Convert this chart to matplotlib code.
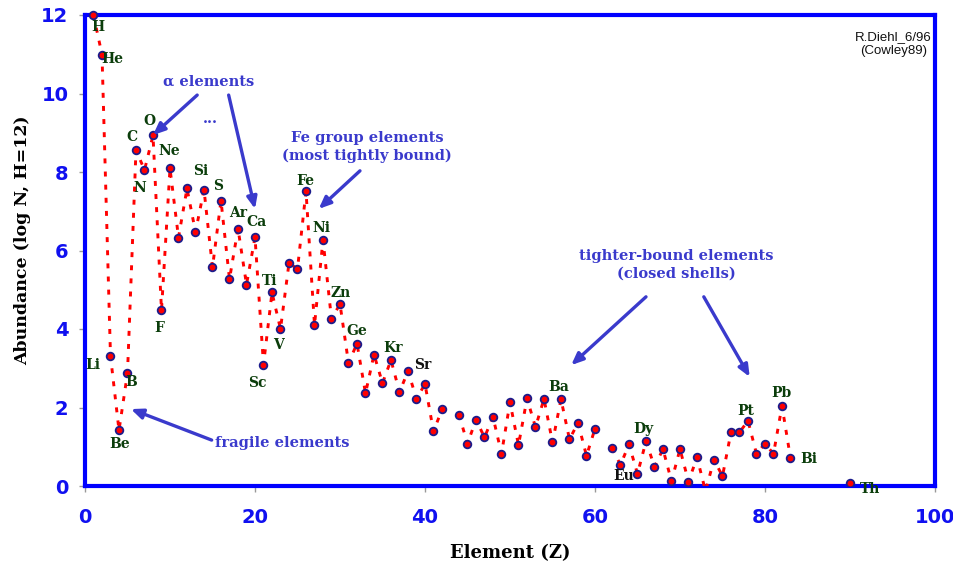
import numpy as np
import matplotlib
matplotlib.use("Agg")
import matplotlib.pyplot as plt
from matplotlib.patches import Rectangle

# Solar system abundances, log N with H = 12 (nan = no value shown)
z = np.arange(1, 91)
abund = np.array([
    12.00, 10.99, 3.31, 1.42, 2.88, 8.56, 8.05, 8.93, 4.48, 8.09,   # 1-10
    6.33, 7.58, 6.47, 7.55, 5.57, 7.27, 5.27, 6.56, 5.13, 6.34,     # 11-20
    3.09, 4.93, 4.00, 5.68, 5.53, 7.51, 4.10, 6.27, 4.25, 4.64,     # 21-30
    3.13, 3.63, 2.36, 3.35, 2.62, 3.21, 2.39, 2.93, 2.22, 2.60,     # 31-40
    1.39, 1.95, np.nan, 1.81, 1.08, 1.69, 1.24, 1.76, 0.82, 2.13,   # 41-50
    1.04, 2.23, 1.50, 2.22, 1.11, 2.21, 1.19, 1.61, 0.77, 1.46,     # 51-60
    np.nan, 0.96, 0.54, 1.06, 0.31, 1.14, 0.49, 0.94, 0.12, 0.94,   # 61-70
    0.11, 0.73, -0.13, 0.67, 0.25, 1.37, 1.37, 1.66, 0.82, 1.08,    # 71-80
    0.82, 2.04, 0.71, np.nan, np.nan, np.nan, np.nan, np.nan, np.nan, 0.07,  # 81-90
])

# labelled elements: symbol, Z, label offset (pixels)
lab_names = ["H", "He", "Li", "Be", "B", "C", "N", "O", "F", "Ne",
             "Si", "S", "Ar", "Ca", "Sc", "Ti", "V", "Fe", "Ni", "Zn",
             "Ge", "Kr", "Sr", "Ba", "Eu", "Dy", "Pt", "Pb", "Bi", "Th"]
lab_z = [1, 2, 3, 4, 5, 6, 7, 8, 9, 10,
         14, 16, 18, 20, 21, 22, 23, 26, 28, 30,
         32, 36, 38, 56, 63, 66, 78, 82, 83, 90]
lab_off = [(4, -12), (10, -4), (-18, -9), (1, -14), (4, -9), (-4, 13), (-5, -18), (-4, 14), (-2, -18), (-1, 17),
           (-3, 19), (-3, 15), (0, 16), (2, 15), (-6, -18), (-2, 11), (-2, -16), (-1, 10), (-2, 12), (1, 11),
           (0, 13), (2, 12), (15, 6), (-2, 12), (3, -11), (-3, 12), (-2, 10), (-1, 13), (18, -1), (20, -6)]
black_labels = ["Sr", "Eu"]

blue = "#0000ff"
note_col = "#3a3acc"
green = "#0b3d0b"

fig = plt.figure(figsize=(9.54, 5.64), dpi=100)
ax = fig.add_axes([85 / 954, 78 / 564, 850 / 954, 471 / 564])

line, = ax.plot(z, abund, color="red", lw=2.1, dashes=(1.7, 2.8),
                marker="o", ms=5.5, mfc="red", mec="#1c1c8c", mew=1.3, zorder=3)
# let the H point sit on top of the frame, but clip at the bottom
clip = Rectangle((-0.02, 0), 1.04, 1.05, transform=ax.transAxes)
line.set_clip_path(clip)

for name, zz, off in zip(lab_names, lab_z, lab_off):
    col = "#111111" if name in black_labels else green
    t = ax.annotate(name, (zz, abund[zz - 1]), xytext=off, textcoords="offset pixels",
                    ha="center", va="center", fontsize=10, fontweight="bold",
                    family="DejaVu Serif", color=col, zorder=4)
    t.set_clip_on(True)

# annotations with arrows
note_kw = dict(ha="center", va="center", fontsize=10.5, fontweight="bold",
               family="DejaVu Serif", color=note_col, zorder=5)
arrow_kw = dict(arrowstyle="-|>,head_length=0.7,head_width=0.3", color=note_col, lw=2.4,
                shrinkA=0, shrinkB=0)

ax.text(14.6, 10.29, "\u03b1 elements", **note_kw)
ax.text(14.7, 9.35, "...", **note_kw)
ax.annotate("", xy=(8.0, 8.94), xytext=(13.2, 9.96), arrowprops=arrow_kw)
ax.annotate("", xy=(20.0, 7.06), xytext=(16.9, 9.96), arrowprops=arrow_kw)

ax.text(33.2, 8.64, "Fe group elements\n(most tightly bound)", linespacing=1.3, **note_kw)
ax.annotate("", xy=(27.5, 7.06), xytext=(32.35, 8.03), arrowprops=arrow_kw)

ax.text(69.6, 5.63, "tighter-bound elements\n(closed shells)", linespacing=1.3, **note_kw)
ax.annotate("", xy=(57.2, 3.08), xytext=(66.0, 4.82), arrowprops=arrow_kw)
ax.annotate("", xy=(78.2, 2.78), xytext=(72.8, 4.82), arrowprops=arrow_kw)

ax.text(23.2, 1.10, "fragile elements", **note_kw)
ax.annotate("", xy=(5.4, 1.96), xytext=(14.9, 1.17), arrowprops=arrow_kw)

ax.text(0.951, 0.938, "R.Diehl_6/96\n(Cowley89)", transform=ax.transAxes, ha="center",
        va="center", fontsize=9.5, linespacing=1.25, family="Liberation Sans", color="#111111")

ax.set_xlim(0, 100)
ax.set_ylim(0, 12)
ax.set_xticks(range(0, 101, 20))
ax.set_yticks(range(0, 13, 2))
for s in ax.spines.values():
    s.set_color(blue)
    s.set_linewidth(3)
ax.tick_params(axis="x", direction="out", length=4, width=1, color="#999999", pad=12)
ax.tick_params(axis="y", direction="out", length=4, width=1, color="#999999", pad=8)
for lbl in ax.get_xticklabels() + ax.get_yticklabels():
    lbl.set_color("#1010f0")
    lbl.set_fontweight("bold")
    lbl.set_fontsize(14)
    lbl.set_family("DejaVu Sans")

ax.set_xlabel("Element (Z)", fontsize=13, fontweight="bold", family="DejaVu Serif", labelpad=12)
ax.set_ylabel("Abundance (log N, H=12)", fontsize=12.5, fontweight="bold", family="DejaVu Serif")
ax.yaxis.set_label_coords(-0.063, 0.522)

fig.savefig("out.png", dpi=100)
